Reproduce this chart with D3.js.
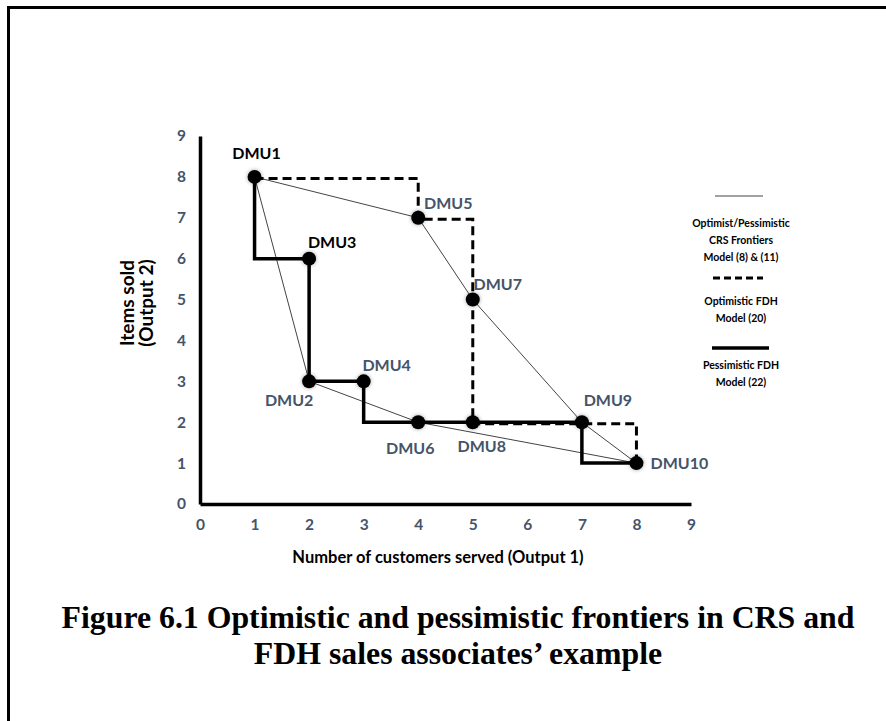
<!DOCTYPE html>
<html>
<head>
<meta charset="utf-8">
<script src="https://cdn.jsdelivr.net/npm/d3@7"></script>
<style>
  body { margin: 0; background: #fff; }
  svg { display: block; }
</style>
</head>
<body>
<svg id="chart" width="886" height="721"></svg>
<script>
// DMU observations: customers served (output 1), items sold (output 2)
const dmuNames = ['DMU1', 'DMU2', 'DMU3', 'DMU4', 'DMU5', 'DMU6', 'DMU7', 'DMU8', 'DMU9', 'DMU10'];
const customersServed = [1, 2, 2, 3, 4, 4, 5, 5, 7, 8];
const itemsSold = [8, 3, 6, 3, 7, 2, 5, 2, 2, 1];

// frontiers as [x, y] vertices
const crsOptimistic = [[1, 8], [4, 7], [5, 5], [7, 2], [8, 1]];
const crsPessimistic = [[1, 8], [2, 3], [4, 2], [8, 1]];
const fdhOptimistic = [[1, 8], [4, 8], [4, 7], [5, 7], [5, 5], [5, 2], [8, 2], [8, 1]];
const fdhPessimistic = [[1, 8], [1, 6], [2, 6], [2, 3], [3, 3], [3, 2], [7, 2], [7, 1], [8, 1]];

const xTicks = [0, 1, 2, 3, 4, 5, 6, 7, 8, 9];
const yTicks = [0, 1, 2, 3, 4, 5, 6, 7, 8, 9];

const legendItems = [
  { kind: 'crs', lines: ['Optimist/Pessimistic', 'CRS Frontiers', 'Model (8) & (11)'] },
  { kind: 'fdhOpt', lines: ['Optimistic FDH', 'Model (20)'] },
  { kind: 'fdhPes', lines: ['Pessimistic FDH', 'Model (22)'] },
];

const captionLines = [
  'Figure 6.1 Optimistic and pessimistic frontiers in CRS and',
  'FDH sales associates\u2019 example',
];

// layout
const slate = '#44546A';
const sans = 'Lato, "Open Sans", sans-serif';
// label placement relative to its dot (pixels)
const labelOffset = {
  DMU1: [2, -24, '#000'], DMU2: [-20, 18, slate], DMU3: [23, -17, '#000'],
  DMU4: [23, -17, slate], DMU5: [30, -15, slate], DMU6: [-8, 25, slate],
  DMU7: [25, -16, slate], DMU8: [9, 23, slate], DMU9: [26, -23, slate],
  DMU10: [43, -1, slate],
};

const svg = d3.select('#chart');

// page frame (only top/left edges fall inside the crop)
svg.append('rect')
  .attr('x', 8.5).attr('y', 7.5)
  .attr('width', 900).attr('height', 800)
  .attr('fill', 'none')
  .attr('stroke', '#000')
  .attr('stroke-width', 3);

const x = d3.scaleLinear().domain([0, 9]).range([200, 691]);
const y = d3.scaleLinear().domain([0, 9]).range([504, 136]);

const defs = svg.append('defs');
const glow = defs.append('filter')
  .attr('id', 'glow')
  .attr('x', '-100%').attr('y', '-100%')
  .attr('width', '300%').attr('height', '300%');
glow.append('feGaussianBlur')
  .attr('in', 'SourceAlpha')
  .attr('stdDeviation', 2)
  .attr('result', 'blur');
glow.append('feComponentTransfer')
  .attr('in', 'blur')
  .attr('result', 'soft')
  .append('feFuncA').attr('type', 'linear').attr('slope', 0.35);
const merge = glow.append('feMerge');
merge.append('feMergeNode').attr('in', 'soft');
merge.append('feMergeNode').attr('in', 'SourceGraphic');

// axes
const xAxis = svg.append('g')
  .attr('transform', `translate(0,${y(0)})`)
  .call(d3.axisBottom(x).tickValues(xTicks).tickSize(0).tickSizeOuter(0).tickPadding(15));
const yAxis = svg.append('g')
  .attr('transform', `translate(${x(0)},0)`)
  .call(d3.axisLeft(y).tickValues(yTicks).tickSize(0).tickSizeOuter(0).tickPadding(14));

[xAxis, yAxis].forEach((g) => {
  g.select('.domain').attr('stroke', '#000').attr('stroke-width', 3.5);
  g.selectAll('text')
    .attr('fill', slate)
    .style('font-family', sans)
    .style('font-weight', 700)
    .style('font-size', '15.5px');
});

const line = d3.line().x((d) => x(d[0])).y((d) => y(d[1]));

// CRS frontiers (thin)
[crsOptimistic, crsPessimistic].forEach((pts) => {
  svg.append('path')
    .attr('d', line(pts))
    .attr('fill', 'none')
    .attr('stroke', '#444')
    .attr('stroke-width', 1);
});

// optimistic FDH (dashed), nudged so it shows beside the solid step on y=2
svg.append('path')
  .attr('d', line(fdhOptimistic))
  .attr('transform', 'translate(0,1.5)')
  .attr('fill', 'none')
  .attr('stroke', '#000')
  .attr('stroke-width', 3)
  .attr('stroke-dasharray', '9,5');

// pessimistic FDH (solid)
svg.append('path')
  .attr('d', line(fdhPessimistic))
  .attr('fill', 'none')
  .attr('stroke', '#000')
  .attr('stroke-width', 3.5)
  .attr('stroke-linejoin', 'miter');

// DMU dots
const dmus = dmuNames.map((name, i) => ({ name, cx: customersServed[i], cy: itemsSold[i] }));
svg.append('g')
  .selectAll('circle')
  .data(dmus)
  .join('circle')
    .attr('cx', (d) => x(d.cx))
    .attr('cy', (d) => y(d.cy))
    .attr('r', 7)
    .attr('fill', '#000')
    .attr('filter', 'url(#glow)');

svg.append('g')
  .selectAll('text')
  .data(dmus)
  .join('text')
    .attr('x', (d) => x(d.cx) + labelOffset[d.name][0])
    .attr('y', (d) => y(d.cy) + labelOffset[d.name][1])
    .attr('text-anchor', 'middle')
    .attr('dominant-baseline', 'central')
    .attr('fill', (d) => labelOffset[d.name][2])
    .style('font-family', sans)
    .style('font-weight', 700)
    .style('font-size', '16px')
    .text((d) => d.name);

// axis titles
svg.append('text')
  .attr('x', 438).attr('y', 557)
  .attr('text-anchor', 'middle')
  .attr('dominant-baseline', 'central')
  .style('font-family', sans).style('font-weight', 700).style('font-size', '16.5px')
  .text('Number of customers served (Output 1)');

svg.append('text')
  .attr('transform', 'translate(137,303) rotate(-90)')
  .attr('text-anchor', 'middle')
  .style('font-family', sans).style('font-weight', 700).style('font-size', '19px')
  .selectAll('tspan')
  .data(['Items sold', '(Output 2)'])
  .join('tspan')
    .attr('x', 0)
    .attr('dy', (d, i) => (i === 0 ? '-0.15em' : '1.0em'))
    .text((d) => d);

// legend
const legendSwatch = {
  crs: { x1: 715, x2: 763, y: 196, w: 1, dash: null, color: '#444' },
  fdhOpt: { x1: 713, x2: 763, y: 278, w: 3, dash: '7,4', color: '#000' },
  fdhPes: { x1: 712, x2: 769, y: 348, w: 3.5, dash: null, color: '#000' },
};
const legendTextTop = { crs: 223, fdhOpt: 301, fdhPes: 365 };
const legend = svg.append('g');
legendItems.forEach((item) => {
  const s = legendSwatch[item.kind];
  legend.append('line')
    .attr('x1', s.x1).attr('x2', s.x2)
    .attr('y1', s.y).attr('y2', s.y)
    .attr('stroke', s.color)
    .attr('stroke-width', s.w)
    .attr('stroke-dasharray', s.dash);
  legend.append('g')
    .selectAll('text')
    .data(item.lines)
    .join('text')
      .attr('x', 741)
      .attr('y', (d, i) => legendTextTop[item.kind] + i * 16.8)
      .attr('text-anchor', 'middle')
      .attr('dominant-baseline', 'central')
      .style('font-family', sans).style('font-weight', 700).style('font-size', '10.5px')
      .text((d) => d);
});

// caption
svg.append('g')
  .selectAll('text')
  .data(captionLines)
  .join('text')
    .attr('x', 458)
    .attr('y', (d, i) => 628 + i * 36)
    .attr('text-anchor', 'middle')
    .style('font-family', '"Liberation Serif", "Times New Roman", serif')
    .style('font-weight', 700)
    .style('font-size', '31.8px')
    .text((d) => d);
</script>
</body>
</html>
